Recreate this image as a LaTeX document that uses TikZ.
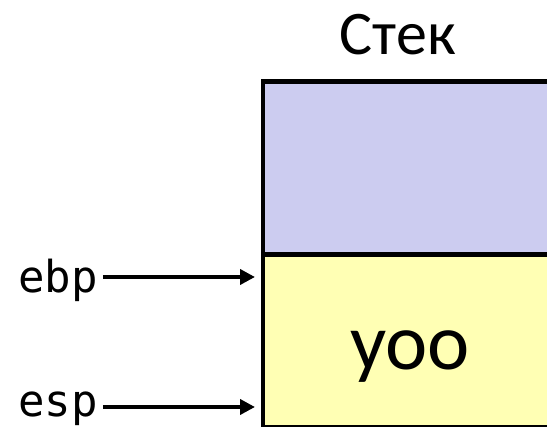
\documentclass[tikz,border=0pt]{standalone}
\usepackage{fontspec}
\setmainfont{Carlito}
\newfontfamily\monofnt{DejaVu Sans Mono}
\usetikzlibrary{arrows.meta}
\definecolor{stackblue}{RGB}{204,204,240}
\definecolor{stackyellow}{RGB}{255,255,180}
\tikzset{
  cell/.style={draw=black, line width=4.5pt},
  reglabel/.style={inner sep=0pt, anchor=base west, font=\monofnt\fontsize{44}{44}\selectfont},
  ptrarrow/.style={line width=4pt, -{Triangle[length=15pt,width=15pt]}, shorten >=1pt}
}
\begin{document}
\begin{tikzpicture}[x=1pt,y=1pt]
\useasboundingbox (0,0) rectangle (547,427);
\fill[white] (0,0) rectangle (547,427);
% stack cells
\filldraw[cell, fill=stackblue] (263,172.5) rectangle (580,345.5);
\filldraw[cell, fill=stackyellow] (263,-0.5) rectangle (580,172.5);
\node[inner sep=0pt, anchor=base, font=\fontsize{62}{62}\selectfont] (title) at (398,372) {Стек};
\node[inner sep=0pt, anchor=base, font=\fontsize{80}{80}\selectfont] (val) at (410,57) {yoo};
% register labels
\node[reglabel] (ebp) at (18,134) {ebp};
\node[reglabel] (esp) at (18,10) {esp};
\coordinate (ebptgt) at (256,150);
\coordinate (esptgt) at (256,20);
\draw[ptrarrow] (ebp.east |- ebptgt) ++(5,0) -- (ebptgt);
\draw[ptrarrow] (esp.east |- esptgt) ++(5,0) -- (esptgt);
\end{tikzpicture}
\end{document}
